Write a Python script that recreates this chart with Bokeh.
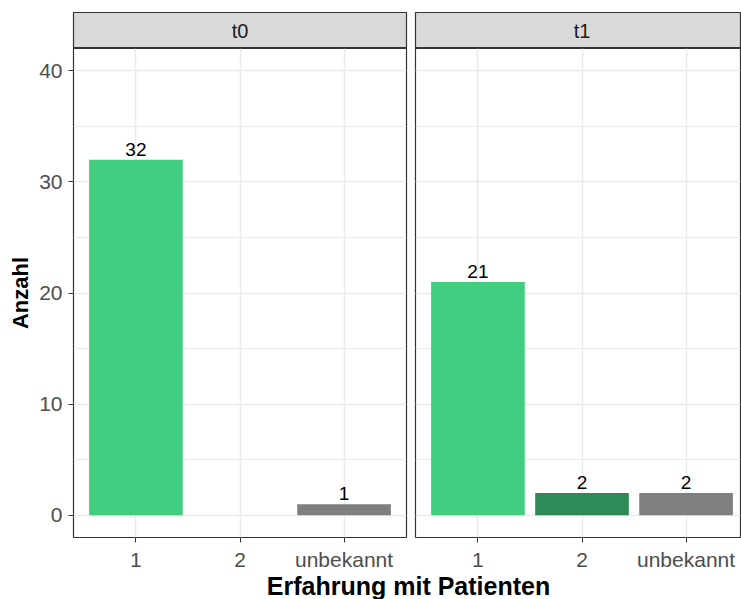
from bokeh.plotting import figure
from bokeh.layouts import column, row
from bokeh.models import Range1d, FixedTicker, ColumnDataSource
from bokeh.core.properties import value
from bokeh.embed import file_html
from bokeh.resources import INLINE

# ---- data ----
categories = ["1", "2", "unbekannt"]
facets = ["t0", "t1"]
t0_cats = ["1", "unbekannt"]
t0_counts = [32, 1]
t1_cats = ["1", "2", "unbekannt"]
t1_counts = [21, 2, 2]
cat_colors = ["#43CD80", "#2E8B57", "#7F7F7F"]
y_ticks = [0, 10, 20, 30, 40]
y_minor = [5, 15, 25, 35]
x_title = "Erfahrung mit Patienten"
y_title = "Anzahl"

FONT = "Liberation Sans"
BORDER = "#333333"
GRID = "#EBEBEB"
TICKLAB = "#4D4D4D"


def make_panel(cats, counts, x_end, left, width, mbl, mbr):
    xs = [categories.index(c) for c in cats]
    src = ColumnDataSource(dict(
        x=xs, top=counts,
        color=[cat_colors[categories.index(c)] for c in cats],
        label=[str(v) for v in counts]))
    p = figure(width=width, height=525, x_range=Range1d(-0.6, x_end),
               y_range=Range1d(-2, 42), output_backend="svg",
               toolbar_location=None, min_border_left=mbl, min_border_right=mbr,
               min_border_top=0, min_border_bottom=34,
               y_axis_location="left" if left else None)
    p.vbar(x="x", top="top", bottom=0, width=0.9, fill_color="color",
           line_color=None, source=src)
    p.text(x="x", y="top", text="label", text_align="center",
           text_baseline="bottom", text_font=value(FONT), text_font_size="19px",
           text_color="#000000", y_offset=-4, source=src)
    xt = FixedTicker(ticks=list(range(len(categories))))
    yt = FixedTicker(ticks=y_ticks, minor_ticks=y_minor)
    p.xaxis.ticker = xt
    p.xaxis.major_label_overrides = {i: c for i, c in enumerate(categories)}
    p.xgrid.ticker = xt
    p.ygrid.ticker = yt
    for ax in p.axis:
        ax.axis_line_color = None
        ax.major_tick_line_color = BORDER
        ax.major_tick_out = 5
        ax.major_tick_in = 0
        ax.minor_tick_line_color = None
        ax.major_label_text_font = FONT
        ax.major_label_text_font_size = "21px"
        ax.major_label_text_color = TICKLAB
        ax.major_label_standoff = 5
    if left:
        p.yaxis.ticker = yt
        p.yaxis.major_label_standoff = 6
        p.yaxis.axis_label = y_title
        p.yaxis.axis_label_text_font = FONT
        p.yaxis.axis_label_text_font_size = "22px"
        p.yaxis.axis_label_text_font_style = "bold"
        p.yaxis.axis_label_text_color = "#000000"
        p.yaxis.axis_label_standoff = 3
    p.xgrid.grid_line_color = GRID
    p.xgrid.grid_line_width = 1.5
    p.ygrid.grid_line_color = GRID
    p.ygrid.grid_line_width = 1.5
    p.ygrid.minor_grid_line_color = GRID
    p.ygrid.minor_grid_line_width = 1
    p.outline_line_color = BORDER
    p.outline_line_width = 1.2
    p.background_fill_color = "white"
    return p


def make_strip(label, xr, width, mbl, mbr):
    s = figure(width=width, height=48, x_range=xr, y_range=Range1d(0, 1),
               output_backend="svg", toolbar_location=None,
               min_border_left=mbl, min_border_right=mbr, min_border_top=12,
               min_border_bottom=0, x_axis_location=None, y_axis_location=None)
    s.grid.visible = False
    s.background_fill_color = "#D9D9D9"
    s.outline_line_color = BORDER
    s.outline_line_width = 1.2
    s.text(x=[1], y=[0.5], text=[label], text_align="center",
           text_baseline="middle", text_font=value(FONT),
           text_font_size="20px", text_color="#1A1A1A")
    return s


unit_px = 333 / 3.2
right_end = -0.6 + 325 / unit_px

p0 = make_panel(t0_cats, t0_counts, 2.6, True, 410, 73, 4)
p1 = make_panel(t1_cats, t1_counts, right_end, False, 331, 5, 1)
s0 = make_strip(facets[0], p0.x_range, 410, 73, 4)
s1 = make_strip(facets[1], p1.x_range, 331, 5, 1)

tfig = figure(width=741, height=26, x_range=Range1d(0, 1), y_range=Range1d(0, 1),
              output_backend="svg", toolbar_location=None,
              min_border_left=75, min_border_right=0, min_border_top=0,
              min_border_bottom=0, x_axis_location=None, y_axis_location=None)
tfig.grid.visible = False
tfig.outline_line_color = None
tfig.text(x=[0.5], y=[0.5], text=[x_title], text_align="center",
          text_baseline="middle", text_font=value(FONT), text_font_size="25px",
          text_font_style="bold", text_color="#000000", y_offset=-1)

layout = column(row(s0, s1), row(p0, p1), tfig)
open("out.html", "w").write(file_html(layout, INLINE))
